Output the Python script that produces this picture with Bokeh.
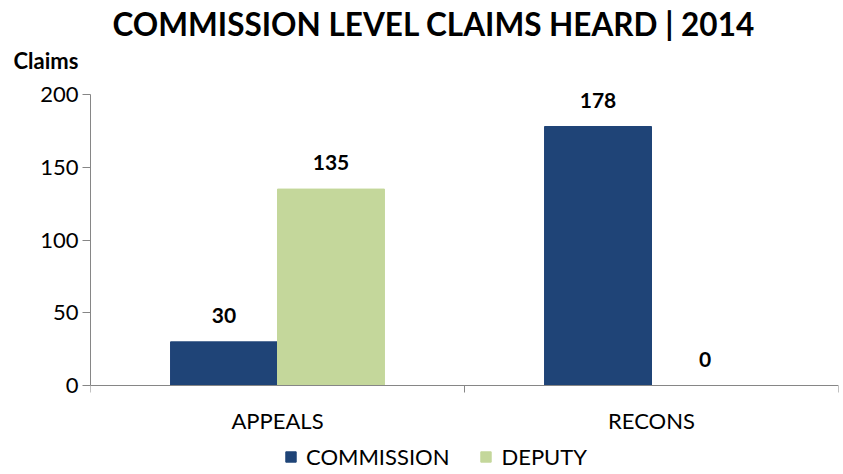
import numpy as np
from bokeh.plotting import figure
from bokeh.core.properties import value
from bokeh.models import (Range1d, FixedTicker, ColumnDataSource, LabelSet, Legend,
                          LegendItem, Title)
from bokeh.embed import file_html
from bokeh.resources import INLINE

categories = ["APPEALS", "RECONS"]
commission = [30, 178]
deputy = [135, 0]
series_names = ["COMMISSION", "DEPUTY"]
y_ticks = [0, 50, 100, 150, 200]
y_max = 200

FONT = "Lato"
C_BLUE = "#1F4477"
C_GREEN = "#C4D79B"
AXIS_C = "#868686"

# layout: 291 px between 0 and 200; the frame reaches higher (for the value
# labels) and lower (room for the category labels and the legend)
PX_PER_200 = 291
PX_ABOVE_ZERO = 312
PX_BELOW_ZERO = 86
FRAME_H = PX_ABOVE_ZERO + PX_BELOW_ZERO
y_top = y_max * PX_ABOVE_ZERO / PX_PER_200
y_bottom = -y_max * PX_BELOW_ZERO / PX_PER_200

centers = np.arange(len(categories)) + 0.5
bw = 0.286

src_c = ColumnDataSource(dict(x=centers - bw / 2, y=commission,
                              lab=[str(v) for v in commission]))
src_d = ColumnDataSource(dict(x=centers + bw / 2, y=deputy,
                              lab=[str(v) for v in deputy]))

p = figure(frame_width=748, frame_height=FRAME_H, output_backend="svg",
           toolbar_location=None,
           x_range=Range1d(0, len(categories)), y_range=Range1d(y_bottom, y_top),
           min_border_left=90, min_border_right=2, min_border_top=0,
           min_border_bottom=0)
p.outline_line_color = None
p.grid.grid_line_color = None
p.background_fill_color = "white"
p.border_fill_color = "white"

p.title = Title(text="COMMISSION LEVEL CLAIMS HEARD | 2014", align="left",
                offset=22, text_font=FONT, text_font_size="31.5px",
                text_font_style="bold", text_color="black", standoff=5)
p.add_layout(Title(text="Claims", align="left", offset=-77, text_font=FONT,
                   text_font_size="22px", text_font_style="bold",
                   text_color="black", standoff=-1), "above")

rc = p.vbar(x="x", top="y", width=bw, bottom=0, source=src_c, fill_color=C_BLUE,
            line_color=C_BLUE)
rd = p.vbar(x="x", top="y", width=bw, bottom=0, source=src_d, fill_color=C_GREEN,
            line_color=C_GREEN)

for s in (src_c, src_d):
    p.add_layout(LabelSet(x="x", y="y", text="lab", source=s, y_offset=19,
                          text_align="center", text_baseline="alphabetic",
                          text_font=value(FONT), text_font_size="21px",
                          text_font_style="bold", text_color="black"))

xa = p.xaxis[0]
xa.fixed_location = 0
xa.ticker = FixedTicker(ticks=list(centers), minor_ticks=[0, 1, 2])
xa.major_label_overrides = {float(c): n for c, n in zip(centers, categories)}
xa.major_tick_line_color = None
xa.minor_tick_line_color = AXIS_C
xa.minor_tick_in = 0
xa.minor_tick_out = 7
xa.axis_line_color = AXIS_C
xa.major_label_text_font = FONT
xa.major_label_text_font_size = "22px"
xa.major_label_text_color = "black"
xa.major_label_standoff = 14

ya = p.yaxis[0]
ya.ticker = FixedTicker(ticks=y_ticks)
ya.bounds = (0, y_max)
ya.minor_tick_line_color = None
ya.major_tick_in = 0
ya.major_tick_out = 8
ya.major_tick_line_color = AXIS_C
ya.axis_line_color = AXIS_C
ya.major_label_text_font = FONT
ya.major_label_text_font_size = "22px"
ya.major_label_text_color = "black"
ya.major_label_standoff = 4

legend = Legend(items=[LegendItem(label=series_names[0], renderers=[rc]),
                       LegendItem(label=series_names[1], renderers=[rd])],
                orientation="horizontal", location=(194, 1),
                label_text_font=FONT, label_text_font_size="22px",
                label_text_color="black", glyph_width=13, glyph_height=13,
                label_height=20, spacing=30, padding=0, margin=0,
                border_line_color=None, background_fill_alpha=0,
                label_standoff=9)
p.add_layout(legend, "center")

open("out.html", "w").write(file_html(p, INLINE))
